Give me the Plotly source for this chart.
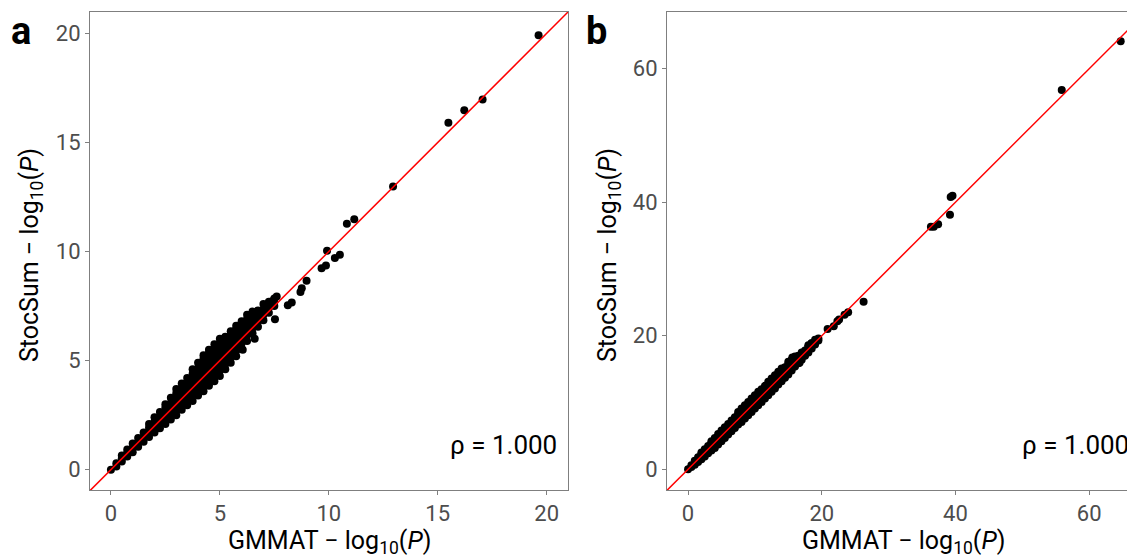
import plotly.graph_objects as go

# ---------------- data ----------------
# Panel a dense band: (GMMAT value, [StocSum values])
a_band_rows = [
    (0.0, [0.0]), (0.25, [0.15, 0.3]), (0.5, [0.38, 0.52, 0.65]),
    (0.75, [0.6, 0.78, 0.93]), (1.0, [0.8, 1.0, 1.2]),
    (1.25, [1.05, 1.25, 1.45]), (1.5, [1.28, 1.5, 1.7]),
    (1.75, [1.5, 1.72, 1.92, 2.1]), (2.0, [1.7, 1.95, 2.2, 2.4]),
    (2.25, [1.9, 2.15, 2.4, 2.65]), (2.5, [2.1, 2.35, 2.6, 2.85, 3.0]),
    (2.75, [2.3, 2.55, 2.8, 3.05, 3.3]),
    (3.0, [2.5, 2.75, 3.0, 3.25, 3.5, 3.7]),
    (3.25, [2.75, 3.0, 3.25, 3.5, 3.75, 3.95]),
    (3.5, [2.95, 3.2, 3.45, 3.7, 3.95, 4.2]),
    (3.75, [3.15, 3.4, 3.65, 3.9, 4.15, 4.4, 4.6]),
    (4.0, [3.4, 3.65, 3.9, 4.15, 4.4, 4.65, 4.9]),
    (4.25, [3.6, 3.85, 4.1, 4.35, 4.6, 4.85, 5.1, 5.25]),
    (4.5, [3.85, 4.1, 4.35, 4.6, 4.85, 5.1, 5.35, 5.5]),
    (4.75, [4.05, 4.3, 4.55, 4.8, 5.05, 5.3, 5.55, 5.75]),
    (5.0, [4.3, 4.55, 4.8, 5.05, 5.3, 5.55, 5.8, 6.0]),
    (5.25, [4.6, 4.85, 5.1, 5.35, 5.6, 5.85, 6.1]),
    (5.5, [4.9, 5.15, 5.4, 5.65, 5.9, 6.15, 6.35]),
    (5.75, [5.2, 5.45, 5.7, 5.95, 6.2, 6.45, 6.6]),
    (6.0, [5.55, 5.8, 6.05, 6.3, 6.55, 6.8]),
    (6.25, [5.9, 6.15, 6.4, 6.65, 6.9, 7.1]),
    (6.5, [6.25, 6.5, 6.75, 7.0, 7.25]),
    (6.75, [6.55, 6.8, 7.05, 7.3]), (7.0, [6.85, 7.1, 7.35, 7.6]),
    (7.25, [7.2, 7.45, 7.7]), (7.5, [7.5, 7.7, 7.85]),
]
a_tail = [
    (19.63, 19.92), (17.06, 16.97), (16.22, 16.48), (15.49, 15.90),
    (12.95, 12.98), (11.17, 11.48), (10.83, 11.27), (9.92, 10.04),
    (9.87, 9.36), (9.67, 9.24), (10.28, 9.70), (10.51, 9.85),
    (8.98, 8.66), (8.76, 8.32), (8.70, 8.14), (8.30, 7.66), (8.12, 7.54),
    (7.53, 6.90), (7.61, 7.94), (7.40, 7.72), (6.8, 7.2), (5.95, 6.6),
    (6.05, 5.5), (6.6, 6.0),
]

# Panel b dense band
b_band_rows = [
    (0.0, [0.0]), (0.5, [0.35, 0.6]), (1.0, [0.7, 1.0, 1.3]),
    (1.5, [1.1, 1.5, 1.8]), (2.0, [1.5, 1.9, 2.3, 2.5]),
    (2.5, [1.9, 2.3, 2.7, 3.0]), (3.0, [2.4, 2.8, 3.2, 3.5]),
    (3.5, [2.8, 3.2, 3.6, 4.0, 4.2]), (4.0, [3.2, 3.6, 4.0, 4.4, 4.7]),
    (4.5, [3.7, 4.1, 4.5, 4.9, 5.3]), (5.0, [4.2, 4.6, 5.0, 5.4, 5.8]),
    (5.5, [4.7, 5.1, 5.5, 5.9, 6.3]), (6.0, [5.2, 5.6, 6.0, 6.4, 6.8]),
    (6.5, [5.7, 6.1, 6.5, 6.9, 7.3]), (7.0, [6.2, 6.6, 7.0, 7.4, 7.8]),
    (7.5, [6.7, 7.1, 7.5, 7.9, 8.3, 8.6]),
    (8.0, [7.1, 7.5, 7.9, 8.3, 8.7, 9.1]),
    (8.5, [7.6, 8.0, 8.4, 8.8, 9.2, 9.6]),
    (9.0, [8.1, 8.5, 8.9, 9.3, 9.7, 10.1]),
    (9.5, [8.6, 9.0, 9.4, 9.8, 10.2, 10.6]),
    (10.0, [9.1, 9.5, 9.9, 10.3, 10.7, 11.1]),
    (10.5, [9.6, 10.0, 10.4, 10.8, 11.2, 11.6]),
    (11.0, [10.1, 10.5, 10.9, 11.3, 11.7, 12.0]),
    (11.5, [10.6, 11.0, 11.4, 11.8, 12.2, 12.5]),
    (12.0, [11.1, 11.5, 11.9, 12.3, 12.7, 13.1]),
    (12.5, [11.6, 12.0, 12.4, 12.8, 13.2, 13.6]),
    (13.0, [12.1, 12.5, 12.9, 13.3, 13.7, 14.1]),
    (13.5, [12.7, 13.1, 13.5, 13.9, 14.3, 14.6]),
    (14.0, [13.2, 13.6, 14.0, 14.4, 14.8, 15.1]),
    (14.5, [13.7, 14.1, 14.5, 14.9, 15.3]),
    (15.0, [14.2, 14.6, 15.0, 15.4, 15.8, 16.1]),
    (15.5, [14.8, 15.2, 15.6, 16.0, 16.4]),
    (16.0, [15.4, 15.8, 16.2, 16.6, 16.9]),
    (16.5, [15.9, 16.3, 16.7, 17.0]), (17.0, [16.4, 16.8, 17.2, 17.5]),
    (17.5, [17.0, 17.4, 17.8]), (18.0, [17.5, 17.9, 18.3, 18.6]),
    (18.5, [18.1, 18.5, 18.9]), (19.0, [18.7, 19.1, 19.4]),
    (19.5, [19.3, 19.6]),
]
b_tail = [
    (64.72, 64.1), (55.9, 56.8), (39.56, 40.96), (39.29, 40.80),
    (39.18, 38.14), (37.41, 36.70), (36.76, 36.33), (36.33, 36.33),
    (26.26, 25.11), (23.95, 23.51), (23.41, 23.14), (22.6, 22.45),
    (22.34, 22.18), (21.8, 21.44), (20.88, 21.01), (19.38, 19.41),
    (18.46, 18.88), (18.03, 18.46), (16.68, 15.96), (16.15, 16.49),
    (15.6, 16.76),
]

identity_line = [-10, 100]
a_ticks = [0, 5, 10, 15, 20]
b_ticks = [0, 20, 40, 60]
rho_label = "ρ = 1.000"
panel_labels = ["a", "b"]
x_title = "GMMAT − log<sub>10</sub>(<i>P</i>)"
y_title = "StocSum − log<sub>10</sub>(<i>P</i>)"

# ---------------- figure ----------------
# The page body has an 8px margin, so the figure is sized to fill the
# 1135x559 window exactly and positions below are given in window pixels.
BODY = 8
FW, FH = 1135 - BODY, 559 - BODY
FONT = "Roboto"
TICK_COLOR = "#4D4D4D"
LINE_COLOR = "#7F7F7F"


def px_x(p):
    return (p - BODY) / FW


def px_y(p):
    return 1 - (p - BODY) / FH


fig = go.Figure()


def add_panel(rows, tail, xa, ya):
    xs, ys = [], []
    for x, yl in rows:
        for y in yl:
            xs.append(x)
            ys.append(y)
    for x, y in tail:
        xs.append(x)
        ys.append(y)
    fig.add_trace(go.Scatter(x=xs, y=ys, mode="markers", xaxis=xa, yaxis=ya,
                             marker=dict(color="black", size=8, line=dict(width=0)),
                             showlegend=False, hoverinfo="skip"))
    fig.add_trace(go.Scatter(x=identity_line, y=identity_line, mode="lines",
                             xaxis=xa, yaxis=ya,
                             line=dict(color="#FF0000", width=1.5),
                             showlegend=False, hoverinfo="skip"))


add_panel(a_band_rows, a_tail, "x", "y")
add_panel(b_band_rows, b_tail, "x2", "y2")

axis_common = dict(showgrid=False, zeroline=False, showline=True,
                   linecolor=LINE_COLOR, linewidth=1, ticks="outside",
                   ticklen=4, tickwidth=1, tickcolor=LINE_COLOR,
                   tickfont=dict(family=FONT, size=22, color=TICK_COLOR))

ydom = [px_y(490), px_y(12)]

fig.update_layout(
    width=FW, height=FH,
    margin=dict(l=0, r=0, t=0, b=0),
    paper_bgcolor="white", plot_bgcolor="white",
    xaxis=dict(domain=[px_x(90), px_x(568)], range=[-0.96, 20.98],
               tickvals=a_ticks, anchor="y", mirror=True, **axis_common),
    yaxis=dict(domain=ydom, range=[-0.93, 20.98], tickvals=a_ticks,
               anchor="x", mirror=True, **axis_common),
    xaxis2=dict(domain=[px_x(667), 1.0], range=[-3.15, 66.86],
                tickvals=b_ticks, anchor="y2", mirror=True, **axis_common),
    yaxis2=dict(domain=ydom, range=[-3.1, 68.5], tickvals=b_ticks,
                anchor="x2", mirror=False, **axis_common),
)

ann = []
# panel letters
for lx, lab in ((9, panel_labels[0]), (584, panel_labels[1])):
    ann.append(dict(text="<b>" + lab + "</b>", x=px_x(lx), y=px_y(31),
                    xanchor="left", yanchor="middle",
                    font=dict(family=FONT, size=38, color="black")))
# rho labels
for rx in (559, 1131):
    ann.append(dict(text=rho_label, x=px_x(rx), y=px_y(445), xanchor="right",
                    yanchor="middle", font=dict(family=FONT, size=26, color="black")))
# axis titles
for cx in (329, 903):
    ann.append(dict(text=x_title, x=px_x(cx), y=px_y(542), xanchor="center",
                    yanchor="middle", font=dict(family=FONT, size=25, color="black")))
for cx in (31, 609):
    ann.append(dict(text=y_title, x=px_x(cx), y=px_y(255), xanchor="center",
                    yanchor="middle", textangle=-90,
                    font=dict(family=FONT, size=25, color="black")))

for a in ann:
    a.update(xref="paper", yref="paper", showarrow=False)
fig.update_layout(annotations=ann)

fig.write_html("out.html")
